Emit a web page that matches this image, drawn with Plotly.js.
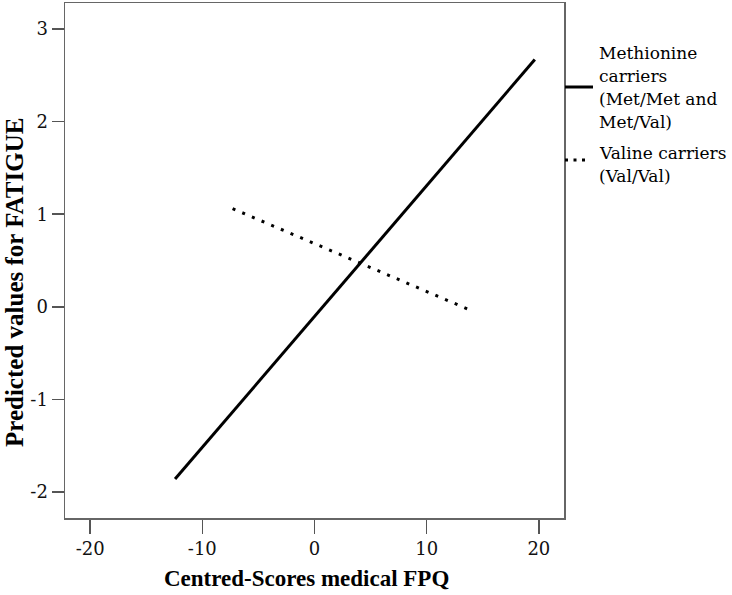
<!DOCTYPE html>
<html>
<head>
<meta charset="utf-8">
<script src="https://cdn.plot.ly/plotly-3.0.1.min.js"></script>
<style>
	body { margin: 0; background: #fff; }
	#chart { width: 732px; height: 595px; }
</style>
</head>
<body>
<div id="chart"></div>
<script>

// fitted lines (end points only)
const metX = [ -12.43, 19.64 ];
const metY = [ -1.86, 2.67 ];
const valX = [ -7.3, 13.97 ];
const valY = [ 1.06, -0.04 ];

// legend text, one entry per line (SPSS uses a tight leading)
const metLines = [ 'Methionine', 'carriers', '(Met/Met and', 'Met/Val)' ];
const valLines = [ 'Valine carriers', '(Val/Val)' ];

const xTicks = [ -20, -10, 0, 10, 20 ];
const xTickText = [ '-20', '-10', '0', '10', '20' ];
const yTicks = [ -2, -1, 0, 1, 2, 3 ];
const yTickText = [ '-2', '-1', '0', '1', '2', '3' ];

const serifBold = 'Liberation Serif, Times New Roman, serif';
const serif = 'DejaVu Serif, serif';

// plot box in pixels
const plotLeft = 65;
const plotRight = 564;
const plotTop = 3;
const plotBottom = 518;

function paperX( px ) {
	return ( px - plotLeft ) / ( plotRight - plotLeft );
}

function paperY( px ) {
	return ( plotBottom - px ) / ( plotBottom - plotTop );
}

/**
 * Builds the legend text as one annotation per line.
 *
 * @param { Array } lines text lines of one entry
 * @param { number } top pixel centre of the first line
 */
function legendText( lines, top ) {

	let notes = [ ];

	for ( let i = 0; i < lines.length; i++ ) {

		notes.push( {
			text: lines[ i ],
			xref: 'paper',
			yref: 'paper',
			x: paperX( 597 ),
			y: paperY( top + i * 23 ),
			xanchor: 'left',
			yanchor: 'middle',
			showarrow: false,
			font: { family: serif, size: 17, color: '#000' }
		} );

	}

	return notes;
}

/**
 * Draws the two predicted-value lines.
 */
function createFatiguePlot() {

	let trace1 = {
		x: metX,
		y: metY,
		name: metLines.join( ' ' ),
		type: 'scatter',
		mode: 'lines',
		line: { color: '#000', width: 3 }
	};

	let trace2 = {
		x: valX,
		y: valY,
		name: valLines.join( ' ' ),
		type: 'scatter',
		mode: 'lines',
		line: { color: '#000', width: 3, dash: '3px,7.5px' }
	};

	let axisStyle = {
		showgrid: false,
		zeroline: false,
		showline: true,
		mirror: true,
		linecolor: '#666',
		linewidth: 1.5,
		ticks: 'outside',
		tickcolor: '#555',
		tickwidth: 1.5,
		tickfont: { family: serif, size: 18, color: '#111' }
	};

	let annotations = [
		{
			text: '<b>Centred-Scores medical FPQ</b>',
			xref: 'paper',
			yref: 'paper',
			x: paperX( 306 ),
			y: paperY( 578 ),
			xanchor: 'center',
			yanchor: 'middle',
			showarrow: false,
			font: { family: serifBold, size: 23, color: '#000' }
		},
		{
			text: '<b>Predicted values for FATIGUE</b>',
			xref: 'paper',
			yref: 'paper',
			x: paperX( 14 ),
			y: paperY( 283 ),
			xanchor: 'center',
			yanchor: 'middle',
			textangle: -90,
			showarrow: false,
			font: { family: serifBold, size: 25, color: '#000' }
		}
	].concat( legendText( metLines, 53 ), legendText( valLines, 153 ) );

	let shapes = [
		{
			type: 'line',
			xref: 'paper',
			yref: 'paper',
			x0: paperX( 565 ),
			x1: paperX( 593 ),
			y0: paperY( 87 ),
			y1: paperY( 87 ),
			line: { color: '#000', width: 3 }
		},
		{
			type: 'line',
			xref: 'paper',
			yref: 'paper',
			x0: paperX( 565 ),
			x1: paperX( 585 ),
			y0: paperY( 160 ),
			y1: paperY( 160 ),
			line: { color: '#000', width: 3, dash: '3px,5.5px' }
		}
	];

	let layout = {
		width: 732,
		height: 595,
		margin: { l: plotLeft, r: 732 - plotRight, t: plotTop, b: 595 - plotBottom },
		paper_bgcolor: '#fff',
		plot_bgcolor: '#fff',
		font: { family: serif, size: 18, color: '#000' },
		xaxis: Object.assign( {}, axisStyle, {
			range: [ -22.24, 22.24 ],
			tickvals: xTicks,
			ticktext: xTickText,
			ticklen: 14
		} ),
		yaxis: Object.assign( {}, axisStyle, {
			range: [ -2.28, 3.28 ],
			tickvals: yTicks,
			ticktext: yTickText,
			ticklen: 12
		} ),
		showlegend: false,
		annotations: annotations,
		shapes: shapes
	};

	Plotly.newPlot( 'chart', [ trace1, trace2 ], layout, { displayModeBar: false, staticPlot: true } );

}

createFatiguePlot();

</script>
</body>
</html>
